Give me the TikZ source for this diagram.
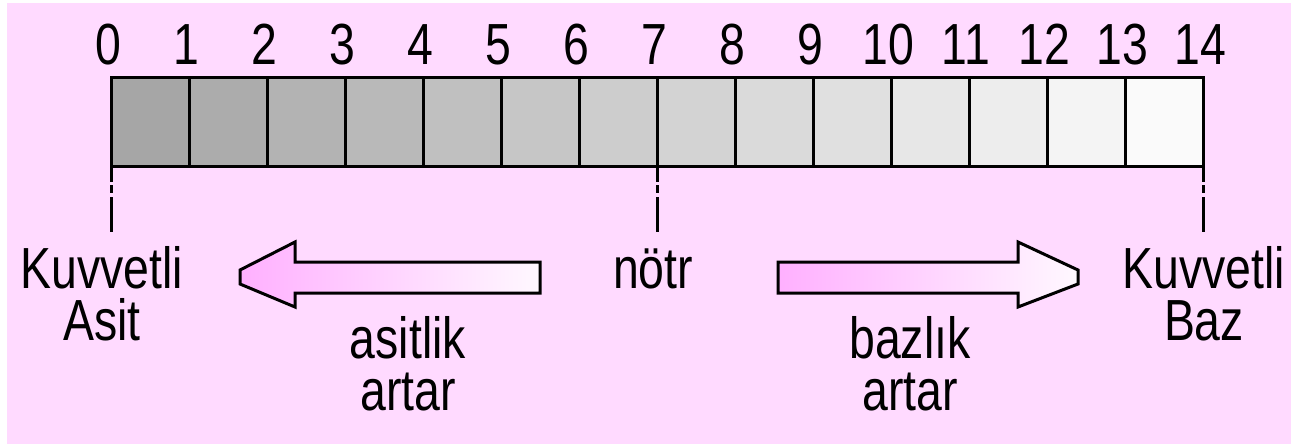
\documentclass[tikz,border=0pt]{standalone}
\usepackage{fontspec}
\setmainfont[FakeStretch=0.8]{Liberation Sans}
\definecolor{bgpink}{HTML}{FFDAFF}
\definecolor{arrpink}{HTML}{FFB0FF}
\definecolor{arrwhite}{HTML}{FFF8FF}
\begin{document}
\begin{tikzpicture}[x=1pt,y=-1pt,
  lbl/.style={inner sep=0pt,anchor=base,font=\fontsize{58}{52}\selectfont},
  txt/.style={inner sep=0pt,anchor=base,align=center,font=\fontsize{58}{52}\selectfont},
  cellbox/.style={draw=black,line width=3pt},
  tick/.style={line width=3pt},
  bigarrow/.style={draw=black,line width=3pt,line join=miter}]
\useasboundingbox (0,0) rectangle (1291,444);
\fill[white] (0,0) rectangle (1291,444);
\fill[bgpink] (7,3) rectangle (1291,444);
% cells
\foreach \i in {0,...,13}{
  \pgfmathsetmacro{\shade}{35-\i*33/13}
  \fill[black!\shade] ({111+78*\i},78) rectangle ({111+78*(\i+1)},166);
}
\foreach \i in {1,...,13}{
  \draw[line width=3pt] ({111+78*\i},78) -- ({111+78*\i},166);
}
\draw[cellbox] (111,78) rectangle (1203,166);
% numbers
\foreach \i in {0,...,14}{
  \node[lbl] (n\i) at ({108+78*\i},65) {\i};
}
% ticks
\foreach \x/\nm in {111/a,657/n,1203/b}{
  \coordinate (t\nm0) at (\x,166);
  \coordinate (t\nm1) at (\x,182);
  \coordinate (t\nm2) at (\x,185);
  \coordinate (t\nm3) at (\x,193);
  \coordinate (t\nm4) at (\x,197);
  \coordinate (t\nm5) at (\x,232);
  \draw[tick] (t\nm0) -- (t\nm1);
  \draw[tick] (t\nm2) -- (t\nm3);
  \draw[tick] (t\nm4) -- (t\nm5);
}
% labels
\node[txt] (ka) at (102,340) {Kuvvetli\\Asit};
\node[txt] (notr) at (653,288) {nötr};
\node[txt] (kb) at (1204,340) {Kuvvetli\\Baz};
\node[txt] (asit) at (408,410) {asitlik\\artar};
\node[txt] (baz) at (910,410) {bazlık\\artar};
% arrows
\draw[bigarrow,left color=arrpink,right color=arrwhite]
  (540,262) -- (295,262) -- (295,242) -- (240,270) -- (240,284) -- (295,307) -- (295,293) -- (540,293) -- cycle;
\draw[bigarrow,left color=arrpink,right color=arrwhite]
  (778,262) -- (1018,262) -- (1018,242) -- (1078,270) -- (1078,284) -- (1018,307) -- (1018,293) -- (778,293) -- cycle;
\end{tikzpicture}
\end{document}
